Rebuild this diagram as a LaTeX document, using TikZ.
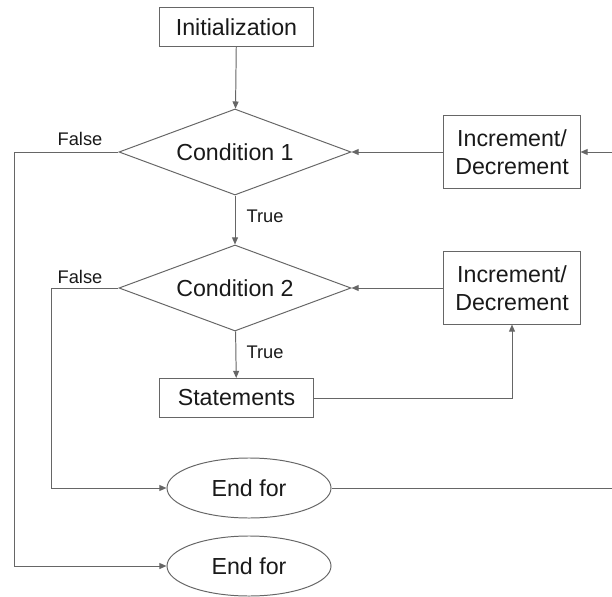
\documentclass[tikz,border=0pt]{standalone}
\usepackage{fontspec}
\setmainfont{Liberation Sans}
\usepackage{tikz}
\usetikzlibrary{shapes.geometric,arrows.meta,positioning}

\tikzset{
  base/.style={draw=black!60,line width=0.7pt,inner sep=0pt,text=black!90,
    font=\fontsize{16.5}{20}\selectfont,align=center},
  procbox/.style={base,rectangle,minimum width=3.85cm,minimum height=0.975cm},
  stepbox/.style={base,rectangle,minimum width=3.4cm,minimum height=1.8cm},
  decision/.style={base,diamond,shape aspect=2.7,minimum width=5.8cm,minimum height=2.15cm},
  terminal/.style={base,ellipse,minimum width=4.1cm,minimum height=1.5cm},
  lbl/.style={inner sep=0pt,text=black!90,font=\fontsize{13}{15}\selectfont},
  flow/.style={draw=black!60,line width=0.7pt},
  arr/.style={flow,-{Triangle[length=1.8mm,width=1.5mm]}}
}

\begin{document}
\begin{tikzpicture}[x=0.025cm,y=-0.025cm]
		\useasboundingbox (0,0) rectangle (612,597);
		% nodes
		\node[procbox] (init) at (236.5,27) {Initialization};
		\node[decision] (cond1) at (235,152) {Condition 1};
		\node[stepbox] (inc1) at (512,152) {Increment/\\Decrement};
		\node[decision] (cond2) at (235,288) {Condition 2};
		\node[stepbox] (inc2) at (512,288) {Increment/\\Decrement};
		\node[procbox] (stmt) at (236.5,398) {Statements};
		\node[terminal] (end1) at (249,488) {End for};
		\node[terminal] (end2) at (249,566) {End for};
		% labels
		\node[lbl] (f1) at (80,139) {False};
		\node[lbl] (f2) at (80,277) {False};
		\node[lbl] (t1) at (265,216) {True};
		\node[lbl] (t2) at (265,352) {True};
		% corners of the loops
		\coordinate (outl) at (14,152);
		\coordinate (inl) at (51,288);
		\coordinate (outr) at (613,488);
		% connectors
		\draw[arr] (init) -- (cond1);
		\draw[arr] (inc1) -- (cond1);
		\draw[arr] (cond1) -- (cond2);
		\draw[arr] (inc2) -- (cond2);
		\draw[arr] (cond2) -- (stmt);
		\draw[arr] (stmt.east) -| (inc2.south);
		\draw[arr] (cond1.west) -- (outl) |- (end2.west);
		\draw[arr] (cond2.west) -- (inl) |- (end1.west);
		\draw[arr] (end1.east) -- (outr) |- (inc1.east);
	\end{tikzpicture}
\end{document}
